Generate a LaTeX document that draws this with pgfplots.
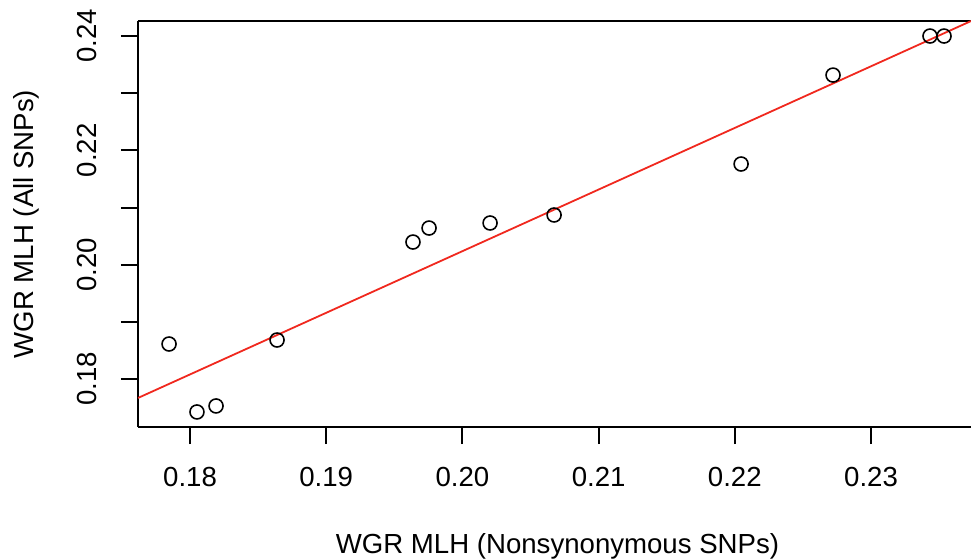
\documentclass[border=0pt]{standalone}
\usepackage{fontspec}
\setmainfont{Liberation Sans}
\usepackage{pgfplots}
\pgfplotsset{compat=1.18}
\begin{document}
\begin{tikzpicture}
\newcommand{\fs}{\fontsize{13.8}{16}\selectfont}
\begin{axis}[
  name=ax,
  scale only axis,
  width=416.5pt, height=203pt,
  xmin=0.17618, xmax=0.23734,
  ymin=0.1716, ymax=0.24263,
  axis x line*=box, axis y line*=left,
  axis line style={line width=1pt, black, -},
  xtick pos=left,
  xtick={0.18,0.19,0.20,0.21,0.22,0.23},
  xticklabels={0.18,0.19,0.20,0.21,0.22,0.23},
  ytick={0.18,0.19,0.20,0.21,0.22,0.23,0.24},
  yticklabels={0.18,,0.20,,0.22,,0.24},
  tick align=outside,
  major tick length=8.5pt,
  tick style={line width=1pt, black},
  xticklabel style={font=\fs, anchor=base, inner sep=0pt},
  xticklabel shift=21pt,
  yticklabel style={font=\fs, rotate=90, anchor=base, inner sep=0pt},
  yticklabel shift=12pt,
  every axis x label/.style={at={(rel axis cs:0.5,0)}, anchor=base, yshift=-63pt, xshift=1.5pt, font=\fs},
  every axis y label/.style={at={(rel axis cs:0,0.5)}, xshift=-52pt, rotate=90, anchor=base, font=\fs},
  xlabel={WGR MLH (Nonsynonymous SNPs)},
  ylabel={WGR MLH (All SNPs)},
  clip=true,
]
\addplot[only marks, mark=o, mark size=3.5pt, mark options={draw=black, line width=0.8pt}] coordinates {
(0.17846,0.18612)
(0.18051,0.17423)
(0.18191,0.17528)
(0.18639,0.18682)
(0.19637,0.20396)
(0.19755,0.20641)
(0.20203,0.20729)
(0.20673,0.20869)
(0.22046,0.21761)
(0.22721,0.23317)
(0.23433,0.24000)
(0.23536,0.24000)
};
\addplot[color={rgb,255:red,240;green,40;blue,30}, line width=0.9pt] coordinates {(0.17618,0.17668) (0.23734,0.24262)};
\end{axis}
\pgfresetboundingbox
\path[use as bounding box] (ax.south west) ++(-69pt,-65.5pt) rectangle ++(485.5pt,279pt);
\end{tikzpicture}
\end{document}
